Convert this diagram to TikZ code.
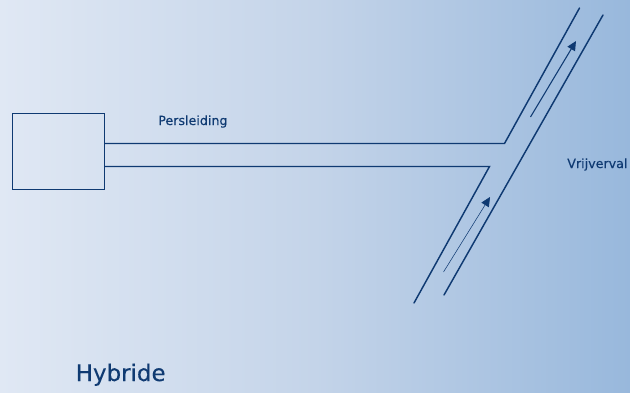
\documentclass[tikz,border=0pt]{standalone}
\usepackage{fontspec}
\setmainfont{DejaVu Sans}
\usetikzlibrary{arrows.meta}
\definecolor{ink}{HTML}{0F3A72}
\definecolor{bgL}{HTML}{E0E8F4}
\definecolor{bgM}{HTML}{C4D4E9}
\definecolor{bgR}{HTML}{98B8DC}
\tikzset{
  pipe/.style={draw=ink,line width=1.1pt,line cap=round,line join=miter},
  flow/.style={draw=ink,-{Triangle[length=7pt,width=6.5pt]}},
  lbl/.style={text=ink,inner sep=0pt,anchor=base west,font=\fontsize{9.5}{11}\selectfont\addfontfeature{FakeBold=0.25}},
}
\begin{document}
\begin{tikzpicture}[x=0.75pt,y=-0.75pt]
\useasboundingbox (0,0) rectangle (630,392);
\shade[left color=bgL,right color=bgR,middle color=bgM] (0,0) rectangle (630,392);
\node[draw=ink,line width=1.1pt,fill=none,minimum width=68.8pt,minimum height=57pt,inner sep=0pt,anchor=north west] (box) at (12,113) {};
\coordinate (t0) at (box.east |- 0,143.5);
\coordinate (t1) at (504.5,143.5);
\coordinate (t2) at (579.5,8);
\coordinate (b0) at (box.east |- 0,166.5);
\coordinate (b1) at (489.5,166.5);
\coordinate (b2) at (414,303);
\coordinate (r1) at (603,15);
\coordinate (r2) at (444,295);
\coordinate (a1s) at (530.5,117);
\coordinate (a1e) at (576,41);
\coordinate (a2s) at (443.5,272);
\coordinate (a2e) at (490,197);
\draw[pipe] (t0) -- (t1) -- (t2);
\draw[pipe] (b0) -- (b1) -- (b2);
\draw[pipe] (r1) -- (r2);
\draw[flow,line width=0.8pt] (a1s) -- (a1e);
\draw[flow,line width=0.4pt] (a2s) -- (a2e);
\node[lbl] (pers) at (158,125) {Persleiding};
\node[lbl] (vrij) at (567,168) {Vrijverval};
\node[lbl,font=\fontsize{17.2}{20}\selectfont\addfontfeature{FakeBold=0.2}] (hyb) at (75.5,381) {Hybride};
\end{tikzpicture}
\end{document}
